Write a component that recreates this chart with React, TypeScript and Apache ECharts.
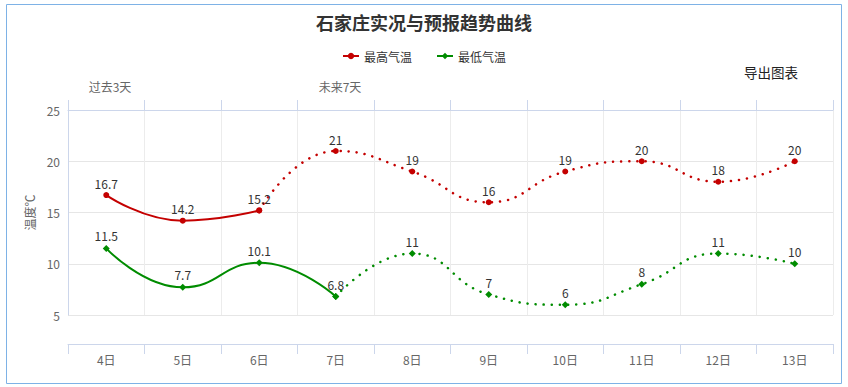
import React, { useEffect, useRef } from "react";
import * as echarts from "echarts";

const categories = ["4日", "5日", "6日", "7日", "8日", "9日", "10日", "11日", "12日", "13日"];
const highActual = [16.7, 14.2, 15.2, null, null, null, null, null, null, null];
const highForecast = [null, null, 15.2, 21, 19, 16, 19, 20, 18, 20];
const lowActual = [11.5, 7.7, 10.1, 6.8, null, null, null, null, null, null];
const lowForecast = [null, null, null, 6.8, 11, 7, 6, 8, 11, 10];
const highActualCount = 3;
const lowActualCount = 4;

const RED = "#c40000";
const GREEN = "#008c00";
const FONT = '"Noto Sans CJK SC", "Noto Sans", sans-serif';

export default function App() {
  const ref = useRef<HTMLDivElement>(null);
  useEffect(() => {
    document.body.style.margin = "0";
    const chart = echarts.init(ref.current!, null, { renderer: "svg" });
    const label = (skipBefore: number) => ({
      show: true,
      position: "top",
      distance: 3,
      color: "#333",
      fontSize: 12,
      formatter: (p: any) => (p.dataIndex < skipBefore ? "" : String(p.value)),
    });
    chart.setOption({
      animation: false,
      textStyle: { fontFamily: FONT },
      title: {
        text: "石家庄实况与预报趋势曲线",
        left: "center",
        top: 8,
        textStyle: { fontSize: 18, fontWeight: "bold", color: "#333", fontFamily: FONT },
      },
      legend: {
        top: 45,
        left: "center",
        itemWidth: 16,
        itemHeight: 8,
        itemGap: 24,
        textStyle: { fontSize: 12, color: "#333" },
        data: ["最高气温", "最低气温"],
      },
      graphic: [
        {
          type: "rect",
          shape: { x: 6.5, y: 4.5, width: 835, height: 379 },
          style: { fill: "none", stroke: "#7eb2e6", lineWidth: 1 },
          silent: true,
        },
        {
          type: "text",
          x: 110,
          y: 86,
          style: { text: "过去3天", fill: "#666", fontSize: 12, align: "center", verticalAlign: "middle", fontFamily: FONT },
        },
        {
          type: "text",
          x: 340,
          y: 86,
          style: { text: "未来7天", fill: "#666", fontSize: 12, align: "center", verticalAlign: "middle", fontFamily: FONT },
        },
        {
          type: "text",
          x: 771,
          y: 72,
          style: { text: "导出图表", fill: "#222", fontSize: 13.5, align: "center", verticalAlign: "middle", fontFamily: FONT },
        },
      ],
      grid: { left: 68, right: 15, top: 110, bottom: 72 },
      xAxis: [
        {
          type: "category",
          position: "bottom",
          data: categories,
          offset: 29,
          boundaryGap: true,
          axisLine: { show: true, lineStyle: { color: "#ccd6eb" } },
          axisTick: { show: true, length: 10, interval: 0, lineStyle: { color: "#ccd6eb" } },
          axisLabel: { color: "#666", fontSize: 12, margin: 9, interval: 0 },
          splitLine: { show: false },
        },
        {
          type: "category",
          position: "top",
          data: categories,
          boundaryGap: true,
          axisLine: { show: true, lineStyle: { color: "#ccd6eb" } },
          axisTick: { show: true, length: 10, interval: 0, lineStyle: { color: "#ccd6eb" } },
          axisLabel: { show: false },
          splitLine: { show: true, interval: 0, lineStyle: { color: "#ececec" } },
        },
      ],
      yAxis: {
        type: "value",
        min: 5,
        max: 25,
        interval: 5,
        name: "温度℃",
        nameLocation: "middle",
        nameRotate: 90,
        nameGap: 32,
        nameTextStyle: { color: "#666", fontSize: 12 },
        axisLine: { show: true, lineStyle: { color: "#ccd6eb" } },
        axisTick: { show: false },
        axisLabel: { color: "#666", fontSize: 12, margin: 8 },
        splitLine: { show: true, lineStyle: { color: "#e6e6e6" } },
      },
      series: [
        {
          name: "最高气温",
          type: "line",
          data: highActual,
          smooth: 0.5,
          symbol: "circle",
          symbolSize: 6,
          itemStyle: { color: RED },
          lineStyle: { color: RED, width: 2 },
          label: label(0),
          z: 3,
        },
        {
          name: "最高气温",
          type: "line",
          data: highForecast,
          smooth: 0.5,
          symbol: "circle",
          symbolSize: 6,
          itemStyle: { color: RED },
          lineStyle: { color: RED, width: 2.5, type: [0.1, 8], cap: "round" },
          label: label(highActualCount),
          z: 2,
        },
        {
          name: "最低气温",
          type: "line",
          data: lowActual,
          smooth: 0.5,
          symbol: "diamond",
          symbolSize: 7,
          itemStyle: { color: GREEN },
          lineStyle: { color: GREEN, width: 2 },
          label: label(0),
          z: 3,
        },
        {
          name: "最低气温",
          type: "line",
          data: lowForecast,
          smooth: 0.5,
          symbol: "diamond",
          symbolSize: 7,
          itemStyle: { color: GREEN },
          lineStyle: { color: GREEN, width: 2.5, type: [0.1, 8], cap: "round" },
          label: label(lowActualCount),
          z: 2,
        },
      ],
    });
    return () => chart.dispose();
  }, []);
  return <div ref={ref} style={{ width: 848, height: 387 }} />;
}
